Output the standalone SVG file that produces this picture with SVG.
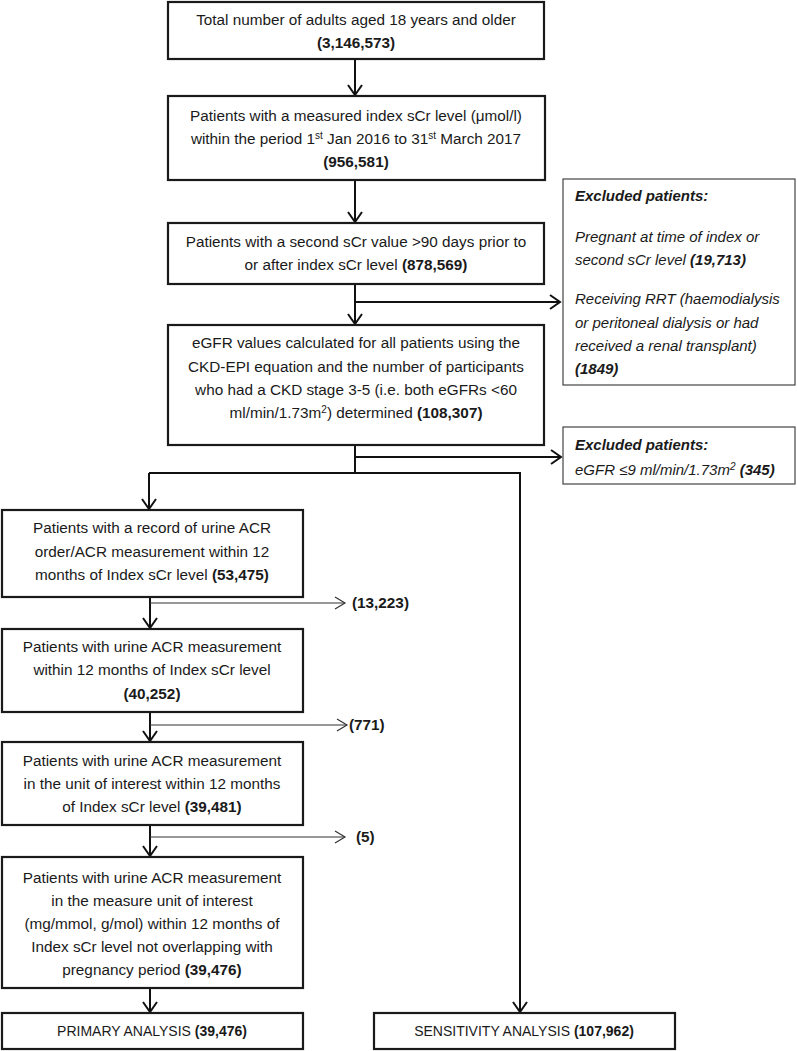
<svg xmlns="http://www.w3.org/2000/svg" width="797" height="1051" viewBox="0 0 797 1051">
<defs>
<marker id="ah" markerUnits="userSpaceOnUse" markerWidth="20" markerHeight="20" viewBox="-12 -10 14 20" refX="0" refY="0" orient="auto">
<path d="M-10,-7 L0,0 L-10,7" fill="none" stroke="#111" stroke-width="2"/>
</marker>
<marker id="ahs" markerUnits="userSpaceOnUse" markerWidth="20" markerHeight="20" viewBox="-12 -10 14 20" refX="0" refY="0" orient="auto">
<path d="M-10,-6 L0,0 L-10,6" fill="none" stroke="#333" stroke-width="1.2"/>
</marker>
</defs>
<style>
.box{fill:#fff;stroke:#1a1a1a;stroke-width:2.2}
.ex{fill:#fff;stroke:#444;stroke-width:1.2}
text{font-family:"Liberation Sans",Arial,sans-serif;font-size:15.3px;fill:#1a1a1a}
.c{text-anchor:middle}
.b{font-weight:bold}
.i{font-style:italic;font-size:15px}
.s{font-size:14px}
.main{fill:none;stroke:#111;stroke-width:2}
.thin{fill:none;stroke:#333;stroke-width:1.2}
.sup{font-size:10px}
</style>
<rect width="797" height="1051" fill="#fff"/>
<g id="connectors">
<path class="main" d="M355,59 V95" marker-end="url(#ah)"/>
<path class="main" d="M355,180 V222" marker-end="url(#ah)"/>
<path class="main" d="M355,284 V324" marker-end="url(#ah)"/>
<path class="main" d="M355,302 H560" marker-end="url(#ah)"/>
<path class="main" d="M355,445 V473"/>
<path class="main" d="M355,457 H561" marker-end="url(#ah)"/>
<path class="main" d="M149,473 H520 V1012" marker-end="url(#ah)"/>
<path class="main" d="M149,473 V509" marker-end="url(#ah)"/>
<path class="main" d="M150,597 V628" marker-end="url(#ah)"/>
<path class="thin" d="M150,603 H345" marker-end="url(#ahs)"/>
<path class="main" d="M150,712 V741" marker-end="url(#ah)"/>
<path class="thin" d="M150,725 H347" marker-end="url(#ahs)"/>
<path class="main" d="M150,825 V856" marker-end="url(#ah)"/>
<path class="thin" d="M150,837 H345" marker-end="url(#ahs)"/>
<path class="main" d="M150,988 V1012" marker-end="url(#ah)"/>
</g>
<g id="n1">
<rect class="box" x="168" y="2" width="376" height="57"/>
<text class="c" x="356" y="25">Total number of adults aged 18 years and older</text>
<text class="c b" x="356" y="48">(3,146,573)</text>
</g>
<g id="n2">
<rect class="box" x="168" y="96" width="377" height="84"/>
<text class="c" x="356" y="121">Patients with a measured index sCr level (μmol/l)</text>
<text class="c" x="356" y="144">within the period 1<tspan class="sup" dy="-5">st</tspan><tspan dy="5"> Jan 2016 to 31</tspan><tspan class="sup" dy="-5">st</tspan><tspan dy="5"> March 2017</tspan></text>
<text class="c b" x="356" y="167">(956,581)</text>
</g>
<g id="n3">
<rect class="box" x="168" y="223" width="376" height="61"/>
<text class="c" x="356" y="247">Patients with a second sCr value &gt;90 days prior to</text>
<text class="c" x="356" y="270">or after index sCr level <tspan class="b">(878,569)</tspan></text>
</g>
<g id="n4">
<rect class="box" x="168" y="325" width="376" height="120"/>
<text class="c" x="356" y="348">eGFR values calculated for all patients using the</text>
<text class="c" x="356" y="372">CKD-EPI equation and the number of participants</text>
<text class="c" x="356" y="395">who had a CKD stage 3-5 (i.e. both eGFRs &lt;60</text>
<text class="c" x="356" y="418">ml/min/1.73m<tspan class="sup" dy="-5">2</tspan><tspan dy="5">) determined </tspan><tspan class="b">(108,307)</tspan></text>
</g>
<g id="ex1">
<rect class="ex" x="563" y="179" width="232" height="206"/>
<text class="i b" x="575" y="201">Excluded patients:</text>
<text class="i" x="575" y="242">Pregnant at time of index or</text>
<text class="i" x="575" y="265">second sCr level <tspan class="b">(19,713)</tspan></text>
<text class="i" x="575" y="304">Receiving RRT (haemodialysis</text>
<text class="i" x="575" y="328">or peritoneal dialysis or had</text>
<text class="i" x="575" y="351">received a renal transplant)</text>
<text class="i b" x="575" y="374">(1849)</text>
</g>
<g id="ex2">
<rect class="ex" x="563" y="427" width="232" height="57"/>
<text class="i b" x="575" y="450">Excluded patients:</text>
<text class="i" x="575" y="475">eGFR ≤9 ml/min/1.73m<tspan class="sup" dy="-5">2</tspan><tspan dy="5"> </tspan><tspan class="b">(345)</tspan></text>
</g>
<g id="n5">
<rect class="box" x="2" y="510" width="301" height="87"/>
<text class="c" x="152" y="533">Patients with a record of urine ACR</text>
<text class="c" x="152" y="557">order/ACR measurement within 12</text>
<text class="c" x="152" y="580">months of Index sCr level <tspan class="b">(53,475)</tspan></text>
</g>
<text class="b" x="352" y="608">(13,223)</text>
<g id="n6">
<rect class="box" x="2" y="629" width="301" height="83"/>
<text class="c" x="152" y="652">Patients with urine ACR measurement</text>
<text class="c" x="152" y="675">within 12 months of Index sCr level</text>
<text class="c b" x="152" y="699">(40,252)</text>
</g>
<text class="b" x="349" y="730">(771)</text>
<g id="n7">
<rect class="box" x="2" y="742" width="301" height="83"/>
<text class="c" x="152" y="766">Patients with urine ACR measurement</text>
<text class="c" x="152" y="789">in the unit of interest within 12 months</text>
<text class="c" x="152" y="812">of Index sCr level <tspan class="b">(39,481)</tspan></text>
</g>
<text class="b" x="356" y="842">(5)</text>
<g id="n8">
<rect class="box" x="2" y="857" width="301" height="131"/>
<text class="c" x="152" y="883">Patients with urine ACR measurement</text>
<text class="c" x="152" y="906">in the measure unit of interest</text>
<text class="c" x="152" y="929">(mg/mmol, g/mol) within 12 months of</text>
<text class="c" x="152" y="952">Index sCr level not overlapping with</text>
<text class="c" x="152" y="975">pregnancy period <tspan class="b">(39,476)</tspan></text>
</g>
<g id="primary">
<rect class="box" x="2" y="1013" width="301" height="36"/>
<text class="c s" x="152" y="1036">PRIMARY ANALYSIS <tspan class="b">(39,476)</tspan></text>
</g>
<g id="sensitivity">
<rect class="box" x="374" y="1013" width="301" height="36"/>
<text class="c s" x="524" y="1036">SENSITIVITY ANALYSIS <tspan class="b">(107,962)</tspan></text>
</g>
</svg>
